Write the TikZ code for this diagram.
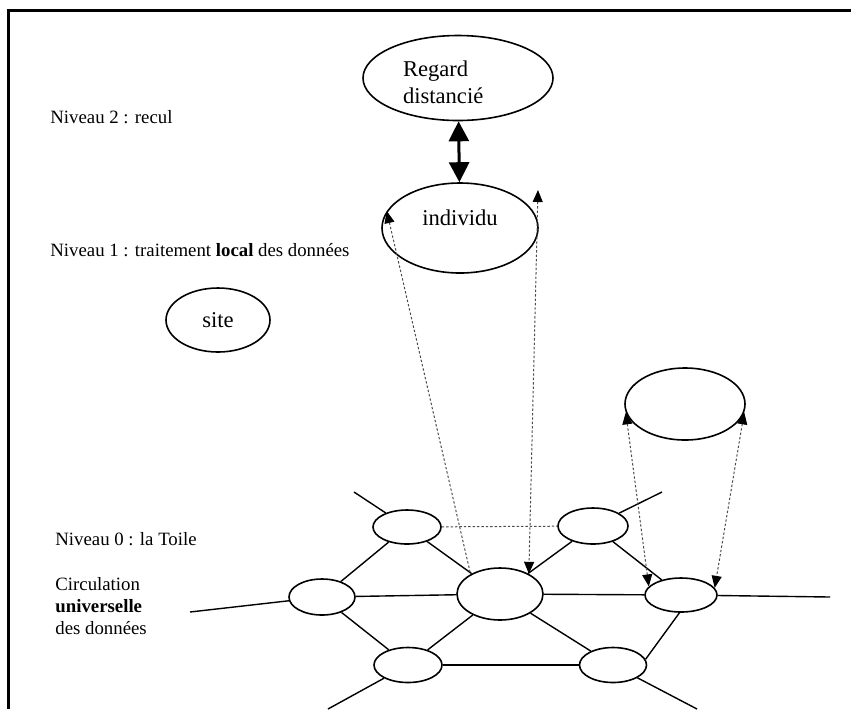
\documentclass[tikz,border=0pt]{standalone}
\usepackage{fontspec}
\setmainfont{Liberation Serif}
\usetikzlibrary{shapes.geometric,arrows.meta}

\begin{document}
\begin{tikzpicture}[x=0.5pt, y=-0.5pt,
    bulle/.style={draw, ellipse, line width=0.8pt, inner sep=0pt, align=center,
      font=\fontsize{11.3}{13.5}\selectfont},
    noeud/.style={draw, ellipse, line width=0.8pt, inner sep=0pt},
    niveau/.style={inner sep=0pt, align=left, font=\fontsize{9.4}{11}\selectfont},
    lien/.style={line width=0.7pt},
    proj/.style={gray!60!black, line width=0.5pt, dash pattern=on 1.2pt off 1pt,
      >={Triangle[length=6pt,width=5pt,color=black]}},
    ]
    \useasboundingbox (0, 0) rectangle (851, 709);
    \draw [line width=1.5pt] (8, 709) -- (8, 10) -- (851, 10);

    % les niveaux
    \node[niveau, anchor=base west] (n2txt) at (50, 123) {Niveau 2 : recul};
    \node[niveau, anchor=base west] (n1txt) at (50, 256) {Niveau 1 : traitement \textbf{local} des données};
    \node[niveau, anchor=base west] (n0txt) at (55, 545) {Niveau 0 : la Toile};
    \node[niveau, anchor=north west] (circ) at (55, 577) {Circulation\\ \textbf{universelle}\\ des données};

    % les bulles
    \node[bulle, align=left, text width=55pt, text height=12pt, minimum width=95pt, minimum height=42.5pt] (regard) at (458, 78) {Regard\\ distancié};
    \node[bulle, minimum width=78pt, minimum height=45pt, text depth=10pt] (ind) at (460, 228) {individu};
    \node[bulle, minimum width=52pt, minimum height=32pt] (site) at (218, 320) {site};
    \node[noeud, minimum width=60pt, minimum height=36pt] (haut) at (685, 404) {};

    % la Toile
    \node[noeud, minimum width=34pt, minimum height=17pt] (a) at (407, 527) {};
    \node[noeud, minimum width=35pt, minimum height=18pt] (b) at (593, 526) {};
    \node[noeud, minimum width=33pt, minimum height=18pt] (c) at (322, 597) {};
    \node[noeud, minimum width=43pt, minimum height=26pt] (d) at (500, 594) {};
    \node[noeud, minimum width=36pt, minimum height=17pt] (e) at (681, 595) {};
    \node[noeud, minimum width=34pt, minimum height=17.5pt] (f) at (408, 665) {};
    \node[noeud, minimum width=33.5pt, minimum height=17.5pt] (g) at (613, 665) {};
    \coordinate (sa) at (354, 492);
    \coordinate (sb) at (662, 492);
    \coordinate (sc) at (190, 612);
    \coordinate (se) at (830, 597);
    \coordinate (sf) at (328, 709);
    \coordinate (sg) at (697, 709);

    \draw [lien] (sa) -- (a);
    \draw [lien] (sb) -- (b);
    \draw [lien] (sc) -- (c);
    \draw [lien] (se) -- (e);
    \draw [lien] (sf) -- (f);
    \draw [lien] (sg) -- (g);
    \draw [lien] (a) -- (c);
    \draw [lien] (a) -- (d);
    \draw [lien] (b) -- (d);
    \draw [lien] (b) -- (e);
    \draw [lien] (c) -- (d);
    \draw [lien] (d) -- (e);
    \draw [lien] (c) -- (f);
    \draw [lien] (d) -- (f);
    \draw [lien] (d) -- (g);
    \draw [lien] (f) -- (g);
    \draw [lien] (e.265) -- (g.10);
    \draw [proj] (a) -- (b);

    % les fleches
    \draw [line width=1.5pt, {Triangle[length=10pt,width=10pt]}-{Triangle[length=10pt,width=10pt]}] (regard) -- (ind);
    \coordinate (pr) at (538, 190);
    \draw [proj, <-] (ind.167) -- (d.146);
    \draw [proj, <->] (pr) -- (d.35);
    \draw [proj, <->] (haut.188) -- (e.165);
    \draw [proj, <->] (haut.352) -- (e.12);
  \end{tikzpicture}
\end{document}
